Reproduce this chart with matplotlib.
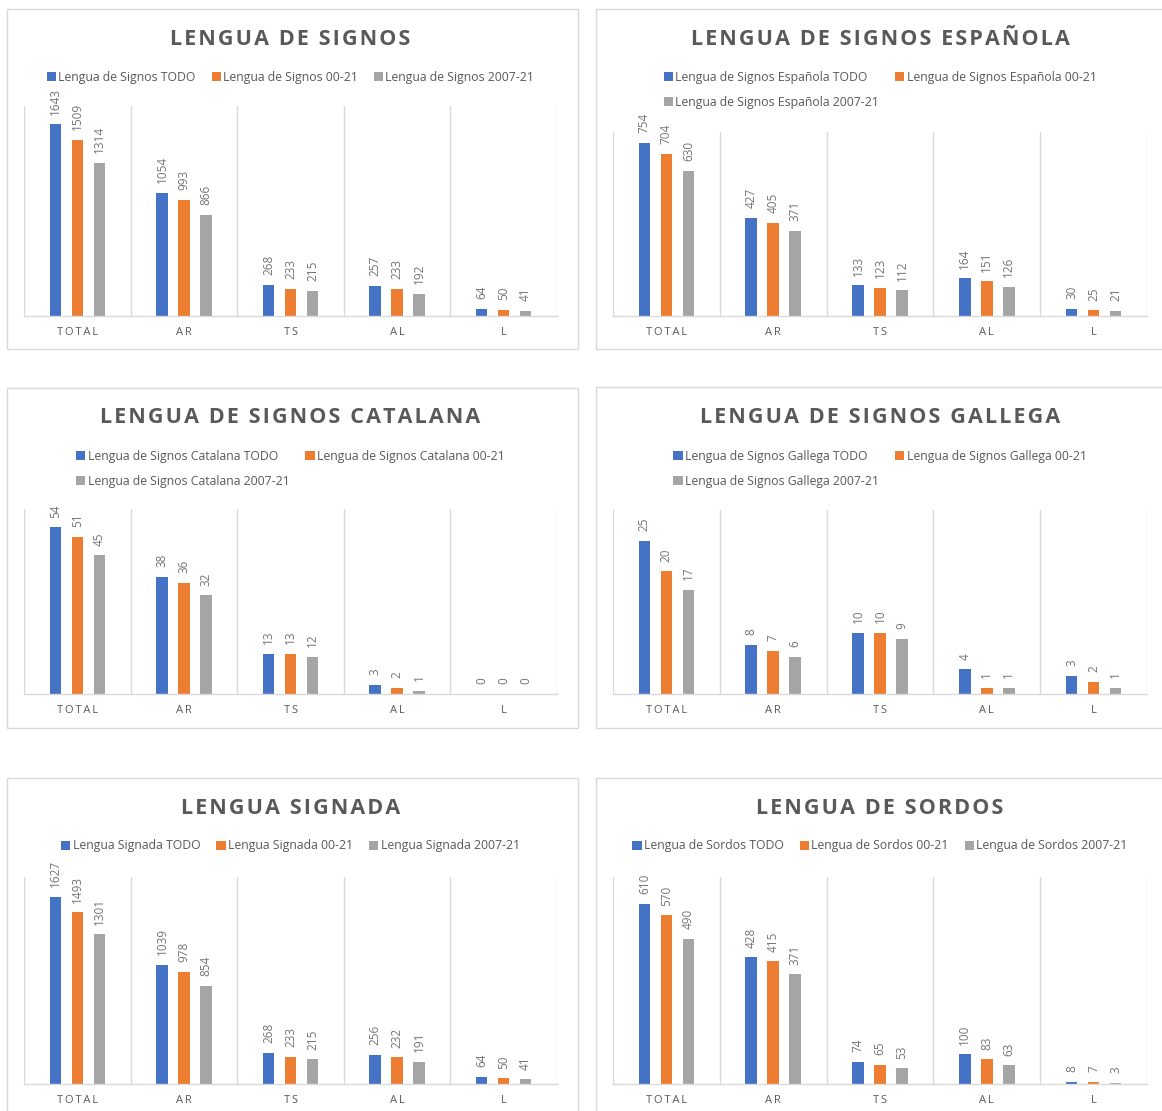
import numpy as np
import matplotlib
matplotlib.use('Agg')
import matplotlib.pyplot as plt
from matplotlib.patches import Rectangle

plt.rcParams['font.family'] = ['Open Sans', 'DejaVu Sans']

W, H = 1162, 1111

categories = ['TOTAL', 'AR', 'TS', 'AL', 'L']
series_suffix = ['TODO', '00-21', '2007-21']
colors = ['#4472C4', '#ED7D31', '#A5A5A5']

signos_todo = [1643, 1054, 268, 257, 64]
signos_0021 = [1509, 993, 233, 233, 50]
signos_0721 = [1314, 866, 215, 192, 41]

espanola_todo = [754, 427, 133, 164, 30]
espanola_0021 = [704, 405, 123, 151, 25]
espanola_0721 = [630, 371, 112, 126, 21]

catalana_todo = [54, 38, 13, 3, 0]
catalana_0021 = [51, 36, 13, 2, 0]
catalana_0721 = [45, 32, 12, 1, 0]

gallega_todo = [25, 8, 10, 4, 3]
gallega_0021 = [20, 7, 10, 1, 2]
gallega_0721 = [17, 6, 9, 1, 1]

signada_todo = [1627, 1039, 268, 256, 64]
signada_0021 = [1493, 978, 233, 232, 50]
signada_0721 = [1301, 854, 215, 191, 41]

sordos_todo = [610, 428, 74, 100, 8]
sordos_0021 = [570, 415, 65, 83, 7]
sordos_0721 = [490, 371, 53, 63, 3]

# name, legend prefix, series, y max
charts = [
    ('LENGUA DE SIGNOS', 'Lengua de Signos',
     [signos_todo, signos_0021, signos_0721], 1800),
    ('LENGUA DE SIGNOS ESPAÑOLA', 'Lengua de Signos Española',
     [espanola_todo, espanola_0021, espanola_0721], 800),
    ('LENGUA DE SIGNOS CATALANA', 'Lengua de Signos Catalana',
     [catalana_todo, catalana_0021, catalana_0721], 60),
    ('LENGUA DE SIGNOS GALLEGA', 'Lengua de Signos Gallega',
     [gallega_todo, gallega_0021, gallega_0721], 30),
    ('LENGUA SIGNADA', 'Lengua Signada',
     [signada_todo, signada_0021, signada_0721], 1800),
    ('LENGUA DE SORDOS', 'Lengua de Sordos',
     [sordos_todo, sordos_0021, sordos_0721], 700),
]

# panel frame (l, t, r, b), plot area (l, t, r, b), title baseline, legend rows
layout = [
    ((7, 9, 578, 349), (24, 106, 557, 316), 45, [77]),
    ((596, 9, 1167, 349), (613, 132, 1147, 316), 45, [77, 103]),
    ((7, 388, 578, 728), (24, 509, 557, 694), 423, [456, 482]),
    ((596, 387, 1167, 728), (613, 510, 1147, 694), 423, [456, 482]),
    ((7, 778, 578, 1118), (24, 877, 557, 1084), 814, [846]),
    ((596, 778, 1167, 1118), (613, 877, 1147, 1084), 814, [846]),
]

TEXT = '#595959'
GRID = '#D9D9D9'


def fx(x):
    return x / W


def fy(y):
    return 1 - y / H


def spaced(s, sep):
    return sep.join(s)


fig = plt.figure(figsize=(W / 100, H / 100), dpi=100)

for (title, prefix, series, ymax), (frame, area, title_y, rows) in zip(charts, layout):
    l, t, r, b = frame
    fig.patches.append(Rectangle((fx(l), fy(b)), fx(r) - fx(l), fy(t) - fy(b),
                                 transform=fig.transFigure, fill=False,
                                 edgecolor=GRID, linewidth=1.0))

    al, at, ar, ab = area
    ax = fig.add_axes([fx(al), fy(ab), fx(ar) - fx(al), fy(at) - fy(ab)])
    x = np.arange(len(categories))
    handles = []
    for i, vals in enumerate(series):
        bars = ax.bar(x + (i - 1) * 0.206, vals, width=0.108, color=colors[i],
                      label=prefix + ' ' + series_suffix[i], zorder=3)
        handles.append(bars)
        for bx, v in zip(x + (i - 1) * 0.206, vals):
            ax.annotate(str(v), (bx, v), xytext=(0, 7), textcoords='offset points',
                        rotation=90, ha='center', va='bottom', fontsize=8.5,
                        color='#757575')

    ax.set_xlim(-0.5, len(categories) - 0.5)
    ax.set_ylim(0, ymax)
    ax.set_yticks([])
    ax.set_xticks(x)
    ax.set_xticklabels([spaced(c, '\u2009') for c in categories],
                       fontsize=8, color=TEXT)
    ax.tick_params(axis='x', length=0, pad=8)
    ax.set_xticks(np.arange(-0.5, len(categories)), minor=True)
    ax.tick_params(axis='x', which='minor', length=0)
    ax.grid(which='minor', axis='x', color=GRID, linewidth=1.0, zorder=0)
    for side in ['top', 'left', 'right']:
        ax.spines[side].set_visible(False)
    ax.spines['bottom'].set_color(GRID)
    ax.spines['bottom'].set_linewidth(1.0)
    ax.spines['bottom'].set_zorder(4)
    ax.set_facecolor('none')

    cx = (al + ar) / 2
    fig.text(fx(cx), fy(title_y), spaced(title, '\u200a'), ha='center',
             va='baseline', fontsize=15.5, fontweight='bold', color=TEXT)

    if len(rows) == 1:
        order, ncol = [0, 1, 2], 3
    else:
        order, ncol = [0, 2, 1], 2
    ax.legend([handles[k] for k in order],
              [handles[k].get_label() for k in order],
              loc='center', bbox_to_anchor=(fx(cx), fy(sum(rows) / len(rows))),
              bbox_transform=fig.transFigure, ncol=ncol, frameon=False,
              fontsize=8.8, labelcolor=TEXT, handlelength=0.75,
              handleheight=0.75, handletextpad=0.2, columnspacing=1.3,
              labelspacing=1.0, borderpad=0)

fig.savefig('out.png', dpi=100, facecolor='white')
